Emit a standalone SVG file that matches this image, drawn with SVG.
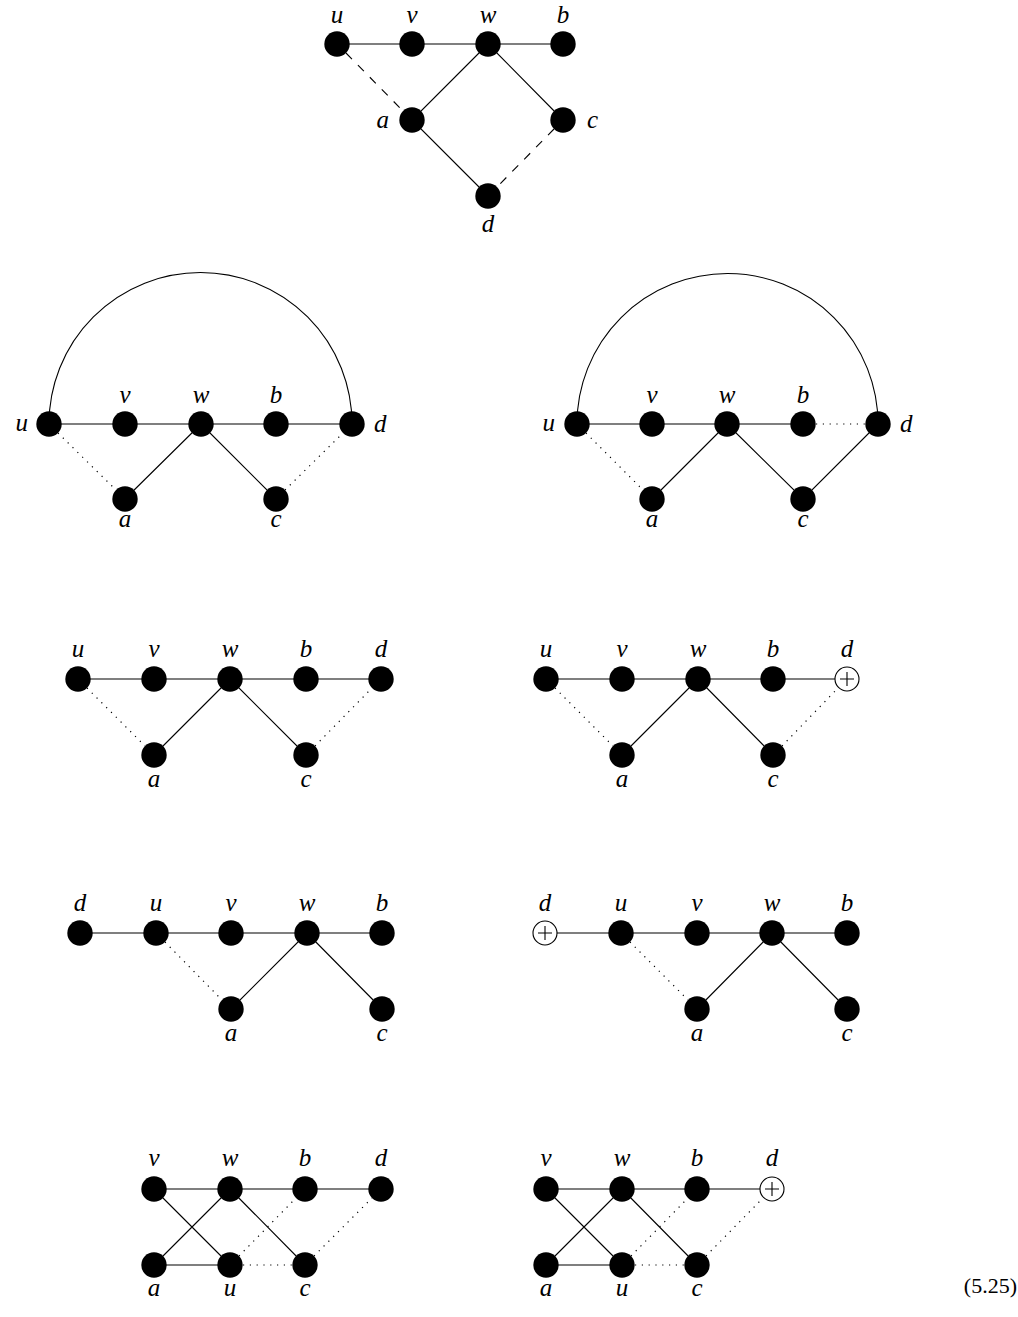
<svg xmlns="http://www.w3.org/2000/svg" width="1018" height="1317" viewBox="0 0 1018 1317">
<style>
.n{fill:#000}
.o{fill:#fff;stroke:#000;stroke-width:1.1}
.p{stroke:#000;stroke-width:1.1;fill:none}
.e{stroke:#000;stroke-width:1.1;fill:none}
.ds{stroke:#000;stroke-width:1.1;fill:none;stroke-dasharray:8.5 8.5}
.dt{stroke:#000;stroke-width:1.2;fill:none;stroke-dasharray:1.2 5.6}
text{font-family:"Liberation Serif","DejaVu Serif",serif;font-style:italic;font-size:25px;fill:#000}
.m{text-anchor:middle}
.s{text-anchor:start}
.en{text-anchor:end}
.eq{font-style:normal;text-anchor:end;font-size:22px}
</style>
<rect width="1018" height="1317" fill="#fff"/>
<g id="connectors">
<!-- G1 -->
<path class="e" d="M337,44H563M488,44L412,120L488,196M488,44L563,120"/>
<path class="ds" d="M346,53L403,111M554,129L497,187"/>
<!-- G2 -->
<path class="e" d="M49,424A151.5,151.5 0 0 1 352,424"/>
<path class="e" d="M49,424H352M201,424L125,499M201,424L276,499"/>
<path class="dt" d="M58,433L116,490M285,490L343,433"/>
<!-- G3 -->
<path class="e" d="M577,424A150.5,150.5 0 0 1 878,424"/>
<path class="e" d="M577,424H803M727,424L652,499M727,424L803,499L878,424"/>
<path class="dt" d="M816,424H865M586,433L643,490"/>
<!-- G4L -->
<path class="e" d="M78,679H381M230,679L154,755M230,679L306,755"/>
<path class="dt" d="M87,688L145,746M315,746L372,688"/>
<!-- G4R -->
<path class="e" d="M546,679H835M698,679L622,755M698,679L773,755"/>
<path class="dt" d="M555,688L613,746M782,746L838,688"/>
<!-- G5L -->
<path class="e" d="M80,933H382M307,933L231,1009M307,933L382,1009"/>
<path class="dt" d="M165,942L222,1000"/>
<!-- G5R -->
<path class="e" d="M557,933H847M772,933L697,1009M772,933L847,1009"/>
<path class="dt" d="M630,942L688,1000"/>
<!-- G6L -->
<path class="e" d="M154,1189H381M154,1189L230,1265M154,1265L230,1189M154,1265H230M230,1189L305,1265"/>
<path class="dt" d="M239,1256L296,1198M243,1265H292M314,1256L372,1198"/>
<!-- G6R -->
<path class="e" d="M546,1189H760M546,1189L622,1265M546,1265L622,1189M546,1265H622M622,1189L697,1265"/>
<path class="dt" d="M631,1256L688,1198M635,1265H684M706,1256L763,1198"/>
</g>
<!-- G1 nodes -->
<g id="g1-u"><circle class="n" cx="337" cy="44" r="12.7"/><text class="m" x="337" y="23">u</text></g>
<g id="g1-v"><circle class="n" cx="412" cy="44" r="12.7"/><text class="m" x="412" y="23">v</text></g>
<g id="g1-w"><circle class="n" cx="488" cy="44" r="12.7"/><text class="m" x="488" y="23">w</text></g>
<g id="g1-b"><circle class="n" cx="563" cy="44" r="12.7"/><text class="m" x="563" y="23">b</text></g>
<g id="g1-a"><circle class="n" cx="412" cy="120" r="12.7"/><text class="en" x="389" y="128">a</text></g>
<g id="g1-c"><circle class="n" cx="563" cy="120" r="12.7"/><text class="s" x="587" y="128">c</text></g>
<g id="g1-d"><circle class="n" cx="488" cy="196" r="12.7"/><text class="m" x="488" y="232">d</text></g>
<!-- G2 nodes -->
<g id="g2-u"><circle class="n" cx="49" cy="424" r="12.7"/><text class="en" x="28" y="431">u</text></g>
<g id="g2-v"><circle class="n" cx="125" cy="424" r="12.7"/><text class="m" x="125" y="403">v</text></g>
<g id="g2-w"><circle class="n" cx="201" cy="424" r="12.7"/><text class="m" x="201" y="403">w</text></g>
<g id="g2-b"><circle class="n" cx="276" cy="424" r="12.7"/><text class="m" x="276" y="403">b</text></g>
<g id="g2-d"><circle class="n" cx="352" cy="424" r="12.7"/><text class="s" x="374" y="432">d</text></g>
<g id="g2-a"><circle class="n" cx="125" cy="499" r="12.7"/><text class="m" x="125" y="527">a</text></g>
<g id="g2-c"><circle class="n" cx="276" cy="499" r="12.7"/><text class="m" x="276" y="527">c</text></g>
<!-- G3 nodes -->
<g id="g3-u"><circle class="n" cx="577" cy="424" r="12.7"/><text class="en" x="555" y="431">u</text></g>
<g id="g3-v"><circle class="n" cx="652" cy="424" r="12.7"/><text class="m" x="652" y="403">v</text></g>
<g id="g3-w"><circle class="n" cx="727" cy="424" r="12.7"/><text class="m" x="727" y="403">w</text></g>
<g id="g3-b"><circle class="n" cx="803" cy="424" r="12.7"/><text class="m" x="803" y="403">b</text></g>
<g id="g3-d"><circle class="n" cx="878" cy="424" r="12.7"/><text class="s" x="900" y="432">d</text></g>
<g id="g3-a"><circle class="n" cx="652" cy="499" r="12.7"/><text class="m" x="652" y="527">a</text></g>
<g id="g3-c"><circle class="n" cx="803" cy="499" r="12.7"/><text class="m" x="803" y="527">c</text></g>
<!-- G4L nodes -->
<g id="g4l-u"><circle class="n" cx="78" cy="679" r="12.7"/><text class="m" x="78" y="657">u</text></g>
<g id="g4l-v"><circle class="n" cx="154" cy="679" r="12.7"/><text class="m" x="154" y="657">v</text></g>
<g id="g4l-w"><circle class="n" cx="230" cy="679" r="12.7"/><text class="m" x="230" y="657">w</text></g>
<g id="g4l-b"><circle class="n" cx="306" cy="679" r="12.7"/><text class="m" x="306" y="657">b</text></g>
<g id="g4l-d"><circle class="n" cx="381" cy="679" r="12.7"/><text class="m" x="381" y="657">d</text></g>
<g id="g4l-a"><circle class="n" cx="154" cy="755" r="12.7"/><text class="m" x="154" y="787">a</text></g>
<g id="g4l-c"><circle class="n" cx="306" cy="755" r="12.7"/><text class="m" x="306" y="787">c</text></g>
<!-- G4R nodes -->
<g id="g4r-u"><circle class="n" cx="546" cy="679" r="12.7"/><text class="m" x="546" y="657">u</text></g>
<g id="g4r-v"><circle class="n" cx="622" cy="679" r="12.7"/><text class="m" x="622" y="657">v</text></g>
<g id="g4r-w"><circle class="n" cx="698" cy="679" r="12.7"/><text class="m" x="698" y="657">w</text></g>
<g id="g4r-b"><circle class="n" cx="773" cy="679" r="12.7"/><text class="m" x="773" y="657">b</text></g>
<g id="g4r-d"><circle class="o" cx="847" cy="679" r="12"/><path class="p" d="M840,679H854M847,672V686"/><text class="m" x="847" y="657">d</text></g>
<g id="g4r-a"><circle class="n" cx="622" cy="755" r="12.7"/><text class="m" x="622" y="787">a</text></g>
<g id="g4r-c"><circle class="n" cx="773" cy="755" r="12.7"/><text class="m" x="773" y="787">c</text></g>
<!-- G5L nodes -->
<g id="g5l-d"><circle class="n" cx="80" cy="933" r="12.7"/><text class="m" x="80" y="911">d</text></g>
<g id="g5l-u"><circle class="n" cx="156" cy="933" r="12.7"/><text class="m" x="156" y="911">u</text></g>
<g id="g5l-v"><circle class="n" cx="231" cy="933" r="12.7"/><text class="m" x="231" y="911">v</text></g>
<g id="g5l-w"><circle class="n" cx="307" cy="933" r="12.7"/><text class="m" x="307" y="911">w</text></g>
<g id="g5l-b"><circle class="n" cx="382" cy="933" r="12.7"/><text class="m" x="382" y="911">b</text></g>
<g id="g5l-a"><circle class="n" cx="231" cy="1009" r="12.7"/><text class="m" x="231" y="1041">a</text></g>
<g id="g5l-c"><circle class="n" cx="382" cy="1009" r="12.7"/><text class="m" x="382" y="1041">c</text></g>
<!-- G5R nodes -->
<g id="g5r-d"><circle class="o" cx="545" cy="933" r="12"/><path class="p" d="M538,933H552M545,926V940"/><text class="m" x="545" y="911">d</text></g>
<g id="g5r-u"><circle class="n" cx="621" cy="933" r="12.7"/><text class="m" x="621" y="911">u</text></g>
<g id="g5r-v"><circle class="n" cx="697" cy="933" r="12.7"/><text class="m" x="697" y="911">v</text></g>
<g id="g5r-w"><circle class="n" cx="772" cy="933" r="12.7"/><text class="m" x="772" y="911">w</text></g>
<g id="g5r-b"><circle class="n" cx="847" cy="933" r="12.7"/><text class="m" x="847" y="911">b</text></g>
<g id="g5r-a"><circle class="n" cx="697" cy="1009" r="12.7"/><text class="m" x="697" y="1041">a</text></g>
<g id="g5r-c"><circle class="n" cx="847" cy="1009" r="12.7"/><text class="m" x="847" y="1041">c</text></g>
<!-- G6L nodes -->
<g id="g6l-v"><circle class="n" cx="154" cy="1189" r="12.7"/><text class="m" x="154" y="1166">v</text></g>
<g id="g6l-w"><circle class="n" cx="230" cy="1189" r="12.7"/><text class="m" x="230" y="1166">w</text></g>
<g id="g6l-b"><circle class="n" cx="305" cy="1189" r="12.7"/><text class="m" x="305" y="1166">b</text></g>
<g id="g6l-d"><circle class="n" cx="381" cy="1189" r="12.7"/><text class="m" x="381" y="1166">d</text></g>
<g id="g6l-a"><circle class="n" cx="154" cy="1265" r="12.7"/><text class="m" x="154" y="1296">a</text></g>
<g id="g6l-u"><circle class="n" cx="230" cy="1265" r="12.7"/><text class="m" x="230" y="1296">u</text></g>
<g id="g6l-c"><circle class="n" cx="305" cy="1265" r="12.7"/><text class="m" x="305" y="1296">c</text></g>
<!-- G6R nodes -->
<g id="g6r-v"><circle class="n" cx="546" cy="1189" r="12.7"/><text class="m" x="546" y="1166">v</text></g>
<g id="g6r-w"><circle class="n" cx="622" cy="1189" r="12.7"/><text class="m" x="622" y="1166">w</text></g>
<g id="g6r-b"><circle class="n" cx="697" cy="1189" r="12.7"/><text class="m" x="697" y="1166">b</text></g>
<g id="g6r-d"><circle class="o" cx="772" cy="1189" r="12"/><path class="p" d="M765,1189H779M772,1182V1196"/><text class="m" x="772" y="1166">d</text></g>
<g id="g6r-a"><circle class="n" cx="546" cy="1265" r="12.7"/><text class="m" x="546" y="1296">a</text></g>
<g id="g6r-u"><circle class="n" cx="622" cy="1265" r="12.7"/><text class="m" x="622" y="1296">u</text></g>
<g id="g6r-c"><circle class="n" cx="697" cy="1265" r="12.7"/><text class="m" x="697" y="1296">c</text></g>
<text class="eq" x="1017" y="1293">(5.25)</text>
</svg>
